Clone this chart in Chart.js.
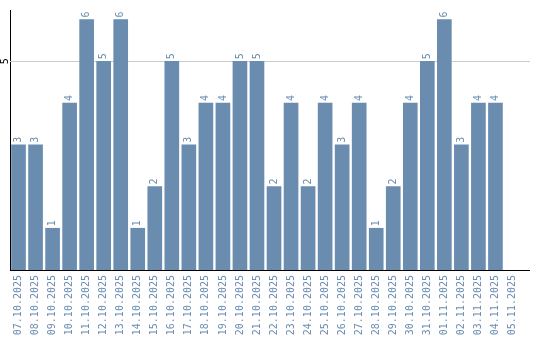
<!DOCTYPE html>
<html>
<head>
<meta charset="utf-8">
<script src="https://cdn.jsdelivr.net/npm/chart.js@4"></script>
<style>
html,body{margin:0;padding:0;background:#fff}
#wrap{width:540px;height:340px}
</style>
</head>
<body>
<div id="wrap"><canvas id="barChart" width="540" height="340"></canvas></div>
<script>
const dates = ['07.10.2025','08.10.2025','09.10.2025','10.10.2025','11.10.2025','12.10.2025','13.10.2025','14.10.2025','15.10.2025','16.10.2025',
  '17.10.2025','18.10.2025','19.10.2025','20.10.2025','21.10.2025','22.10.2025','23.10.2025','24.10.2025','25.10.2025','26.10.2025',
  '27.10.2025','28.10.2025','29.10.2025','30.10.2025','31.10.2025','01.11.2025','02.11.2025','03.11.2025','04.11.2025','05.11.2025']
const counts = [3,3,1,4,6,5,6,1,2,5, 3,4,4,5,5,2,4,2,4,3, 4,1,2,4,5,6,3,4,4,null]
const yTicks = [5]

const barColor = '#6a8caf'
const mono = "'DejaVu Sans Mono', monospace"
const axisEnd = 530

// grid lines, value labels, y tick text and the long x axis line
const extras = {
  id: 'extras',
  beforeDatasetsDraw(chart){
    const ctx = chart.ctx
    const y = chart.scales.y
    ctx.save()
    ctx.strokeStyle = '#cccccc'
    ctx.lineWidth = 1
    yTicks.forEach((t)=>{
      const py = Math.round(y.getPixelForValue(t)) + 0.5
      ctx.beginPath()
      ctx.moveTo(chart.chartArea.left, py)
      ctx.lineTo(axisEnd, py)
      ctx.stroke()
    })
    ctx.restore()
  },
  afterDatasetsDraw(chart){
    const ctx = chart.ctx
    const meta = chart.getDatasetMeta(0)
    ctx.save()
    ctx.font = `10px ${mono}`
    ctx.fillStyle = barColor
    ctx.textAlign = 'left'
    ctx.textBaseline = 'middle'
    meta.data.forEach((bar,i)=>{
      if (counts[i] == null) return
      ctx.save()
      ctx.translate(bar.x, bar.y - 2)
      ctx.rotate(-Math.PI/2)
      ctx.fillText(String(counts[i]), 0, 0)
      ctx.restore()
    })
    ctx.restore()
  },
  afterDraw(chart){
    const ctx = chart.ctx
    const area = chart.chartArea
    const y = chart.scales.y
    ctx.save()
    ctx.strokeStyle = '#000'
    ctx.lineWidth = 1
    ctx.beginPath()
    ctx.moveTo(area.left, Math.round(area.bottom) + 0.5)
    ctx.lineTo(axisEnd, Math.round(area.bottom) + 0.5)
    ctx.stroke()
    ctx.font = `10px ${mono}`
    ctx.fillStyle = '#000'
    ctx.textAlign = 'center'
    ctx.textBaseline = 'middle'
    yTicks.forEach((t)=>{
      ctx.save()
      ctx.translate(5, y.getPixelForValue(t))
      ctx.rotate(-Math.PI/2)
      ctx.fillText(String(t), 0, 0)
      ctx.restore()
    })
    ctx.restore()
  }
}

new Chart('barChart', {
  type: 'bar',
  data: {
    labels: dates,
    datasets: [{
      data: counts,
      backgroundColor: barColor,
      barThickness: 14
    }]
  },
  options: {
    responsive: false,
    animation: false,
    layout: {padding: {top: 10, right: 19, left: 0, bottom: 0}},
    plugins: {legend: {display: false}, tooltip: {enabled: false}},
    scales: {
      x: {
        grid: {display: false, drawTicks: false},
        border: {display: false},
        afterFit: (s)=>{ s.height = 70 },
        ticks: {
          autoSkip: false,
          minRotation: 90,
          maxRotation: 90,
          padding: 5,
          color: barColor,
          font: {family: mono, size: 10}
        }
      },
      y: {
        min: 0,
        max: 6.23,
        afterFit: (s)=>{ s.width = 10 },
        afterBuildTicks: (s)=>{ s.ticks = yTicks.map(v=>({value: v})) },
        grid: {display: false},
        border: {display: true, color: '#000'},
        ticks: {display: false}
      }
    }
  },
  plugins: [extras]
})
</script>
</body>
</html>
